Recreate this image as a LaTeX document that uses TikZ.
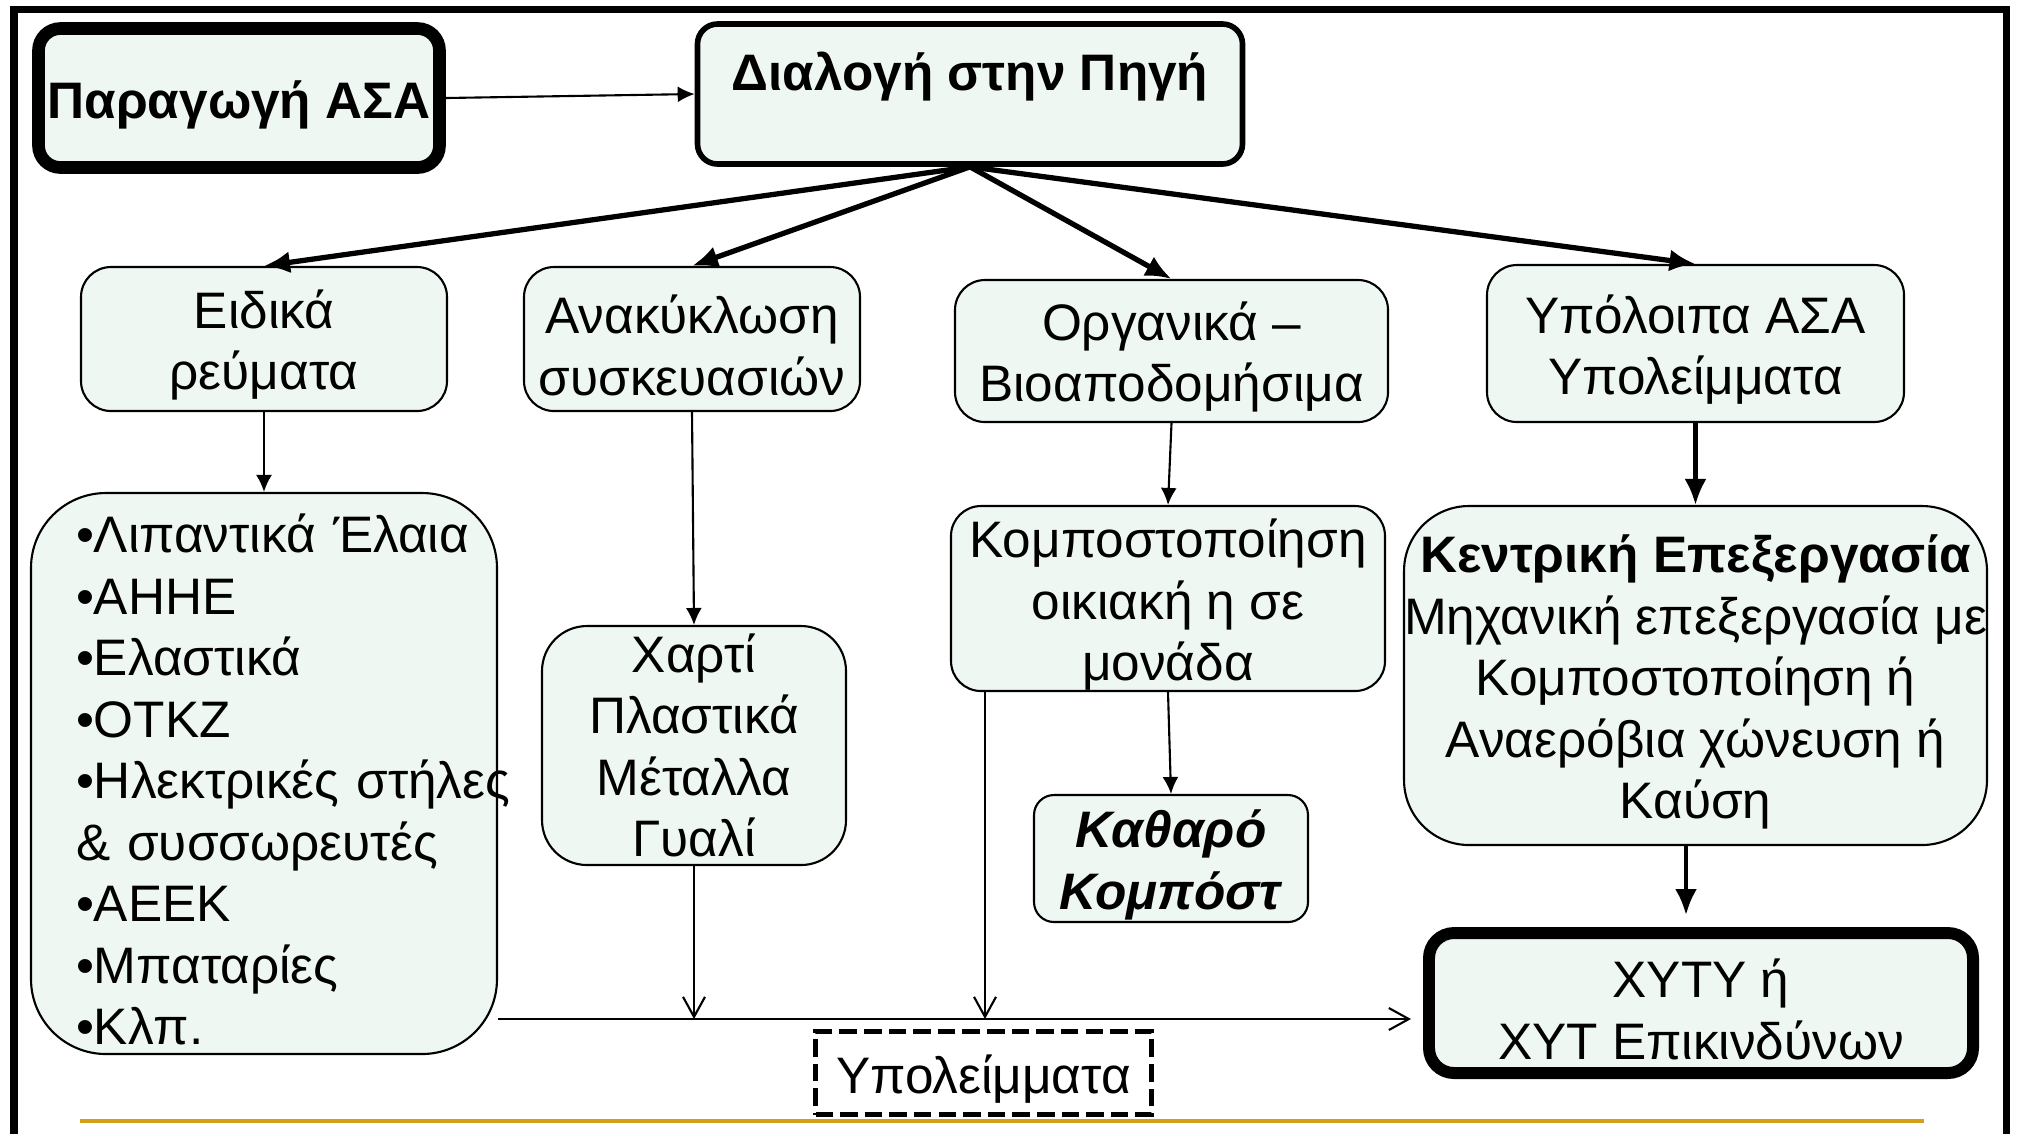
\documentclass[tikz,border=0pt]{standalone}
\usepackage{fontspec}
\setmainfont{Liberation Sans}
\usepackage{tikz}
\usetikzlibrary{arrows,arrows.meta,calc,positioning}
\definecolor{boxfill}{HTML}{EEF7F2}
\definecolor{rulegold}{HTML}{D4A017}
\newcommand{\topgap}{\rule{0pt}{14.5pt}}

\begin{document}
\begin{tikzpicture}
	\tikzstyle{every node} = [draw = black, fill = boxfill, rounded corners = 0.3cm, align = center, inner sep = 0pt, line width = 0.6pt, font = \fontsize{14.6}{17.5}\selectfont]
	\tikzstyle{bigarrow} = [line width = 1.5pt, -{Latex[length=2.6mm, width=2.2mm]}]
	\tikzstyle{smallarrow} = [line width = 0.6pt, -{Latex[length=1.7mm, width=1.6mm]}]
	\tikzstyle{openarrow} = [line width = 0.6pt, -{Straight Barb[length=2mm, width=2.2mm]}]
	\useasboundingbox (0, 0) rectangle (20.18, -11.33);
	\path[draw, line width = 2pt] (0.14, -11.6) -- (0.14, -0.09) -- (20.06, -0.09) -- (20.06, -11.6);
	\path[draw, rulegold, line width = 1.1pt] (0.80, -11.21) -- (19.24, -11.21);

\node[minimum width = 4.01cm, minimum height = 1.39cm, line width = 3.6pt, rounded corners = 0.22cm] (0) at (2.39, -0.98) {\topgap\textbf{Παραγωγή ΑΣΑ}};
\node[minimum width = 5.45cm, minimum height = 1.40cm, line width = 1.6pt, rounded corners = 0.2cm, text height = 0.4cm, text depth = 0.48cm] (1) at (9.70, -0.94) {\textbf{Διαλογή στην Πηγή}};
\node[minimum width = 3.66cm, minimum height = 1.44cm] (2) at (2.64, -3.39) {\topgap Ειδικά\\ρεύματα};
\node[minimum width = 3.36cm, minimum height = 1.44cm] (3) at (6.92, -3.39) {\topgap Ανακύκλωση\\συσκευασιών};
\node[minimum width = 4.33cm, minimum height = 1.42cm] (4) at (11.715, -3.51) {\topgap Οργανικά –\\Βιοαποδομήσιμα};
\node[minimum width = 4.17cm, minimum height = 1.57cm] (5) at (16.955, -3.435) {\topgap Υπόλοιπα ΑΣΑ\\Υπολείμματα};
\node[minimum width = 4.66cm, minimum height = 5.61cm, rounded corners = 0.75cm, text width = 3.76cm, align = left] (6) at (2.64, -7.735) {\topgap\mbox{•Λιπαντικά Έλαια}\\•ΑΗΗΕ\\•Ελαστικά\\•ΟΤΚΖ\\\mbox{•Ηλεκτρικές στήλες}\\\mbox{\& συσσωρευτές}\\•ΑΕΕΚ\\•Μπαταρίες\\•Κλπ.};
\node[minimum width = 3.04cm, minimum height = 2.39cm, rounded corners = 0.45cm] (7) at (6.94, -7.455) {Χαρτί\\Πλαστικά\\Μέταλλα\\Γυαλί};
\node[minimum width = 4.34cm, minimum height = 1.85cm] (8) at (11.68, -5.985) {\topgap Κομποστοποίηση\\οικιακή η σε\\μονάδα};
\node[minimum width = 2.74cm, minimum height = 1.27cm, rounded corners = 0.2cm] (9) at (11.71, -8.585) {\topgap\textbf{\textit{Καθαρό}}\\\textbf{\textit{Κομπόστ}}};
\node[minimum width = 5.79cm, minimum height = 3.39cm, rounded corners = 0.65cm] (10) at (16.955, -6.755) {\topgap\textbf{Κεντρική Επεξεργασία}\\Μηχανική επεξεργασία με\\Κομποστοποίηση ή\\Αναερόβια χώνευση ή\\Καύση};
\node[minimum width = 5.44cm, minimum height = 1.40cm, line width = 3.4pt, rounded corners = 0.25cm] (11) at (17.01, -10.03) {\topgap ΧΥΤΥ ή\\ΧΥΤ Επικινδύνων};
\node[minimum width = 3.36cm, minimum height = 0.83cm, line width = 1.4pt, sharp corners, fill = white, dash pattern = on 5pt off 2pt] (12) at (9.835, -10.73) {\topgap Υπολείμματα};

\coordinate (a) at (6.94, -10.19);
\coordinate (b) at (9.85, -10.19);
\coordinate (c) at (16.86, -8.46);

	\path[draw, smallarrow] (0.east) -- (1.west);
	\path[draw, bigarrow] (1.south) -- (2.north);
	\path[draw, bigarrow] (1.south) -- (3.north);
	\path[draw, bigarrow] (1.south) -- (4.north);
	\path[draw, bigarrow] (1.south) -- (5.north);
	\path[draw, smallarrow] (2.south) -- (6.north);
	\path[draw, smallarrow] (3.south) -- (7.north);
	\path[draw, openarrow] (7.south) -- (a);
	\path[draw, smallarrow] (4.south) -- (8.north);
	\path[draw, smallarrow] (8.south) -- (9.north);
	\path[draw, openarrow] (8.south -| b) -- (b);
	\path[draw, bigarrow, line width = 1.2pt] (5.south) -- (10.north);
	\path[draw, bigarrow, line width = 1.2pt, shorten >= 0.12cm] (c) -- (c |- 11.north);
	\path[draw, openarrow] (6.east |- a) -- ([xshift = -0.12cm] 11.west |- a);
\end{tikzpicture}
\end{document}
